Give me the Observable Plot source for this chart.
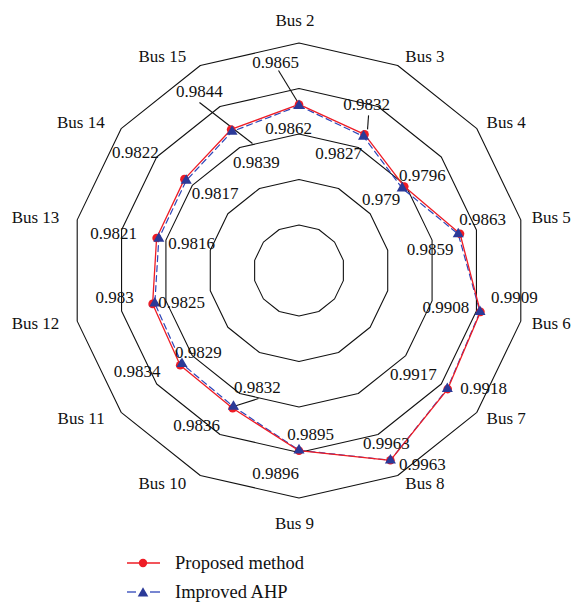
<!DOCTYPE html>
<html>
<head>
<meta charset="utf-8">
<script src="https://cdn.jsdelivr.net/npm/d3@7"></script>
<script src="https://cdn.jsdelivr.net/npm/@observablehq/plot@0.6"></script>
<style>
  html, body { margin: 0; padding: 0; background: #fff; }
  #wrap { position: relative; width: 572px; height: 603px; font-family: "Liberation Serif", "DejaVu Serif", serif; }
  #legend { position: absolute; left: 0; top: 540px; width: 572px; height: 63px; }
  .row { position: absolute; left: 124px; height: 24px; display: flex; align-items: center; font-size: 18.5px; color: #111; }
  .row svg { margin-right: 11px; }
</style>
</head>
<body>
<div id="wrap">
  <div id="chart"></div>
  <div id="legend">
    <div class="row" style="top: 11px;">
      <svg width="40" height="12"><line x1="3" y1="6" x2="36" y2="6" stroke="#ee1c25" stroke-width="1.3"/><circle cx="19" cy="6" r="4.2" fill="#ee1c25"/></svg>
      <span>Proposed method</span>
    </div>
    <div class="row" style="top: 40px;">
      <svg width="40" height="12"><line x1="3" y1="6" x2="12" y2="6" stroke="#2e45b8" stroke-width="1.3"/><line x1="26" y1="6" x2="36" y2="6" stroke="#2e45b8" stroke-width="1.3"/><path d="M19,1.3 L24.3,10.5 L13.7,10.5 Z" fill="#2b3a98"/></svg>
      <span>Improved AHP</span>
    </div>
  </div>
</div>
<script>
// ---- data ----
const buses = ["Bus 2","Bus 3","Bus 4","Bus 5","Bus 6","Bus 7","Bus 8","Bus 9","Bus 10","Bus 11","Bus 12","Bus 13","Bus 14","Bus 15"];
const proposed = [0.9865,0.9832,0.9796,0.9863,0.9909,0.9918,0.9963,0.9896,0.9836,0.9834,0.983,0.9821,0.9822,0.9844];
const improved = [0.9862,0.9827,0.979,0.9859,0.9908,0.9917,0.9963,0.9895,0.9832,0.9829,0.9825,0.9816,0.9817,0.9839];
const rings = [0.96,0.97,0.98,0.99,1.0];
const rMin = 0.95;

// ---- layout (pixel offsets of value labels and leader lines) ----
const proposedLabelOff = [[-23.5,-42],[2,-30],[18,-11],[22.5,-14],[34,-14],[36,-1],[32,4],[-23.5,23],[-36,17],[-43,6],[-38,-6],[-43,-4.5],[-49,-27],[-31.6,-38]];
const improvedLabelOff = [[-10.5,23],[-25,17],[-21,11],[-28,15],[-34,-4],[-34,-14],[-4,-17],[11.5,-16],[24,-19],[16.5,-11],[26.7,-1],[32.7,5],[29,13],[24.4,31]];
const leaders = [
  {series: "p", i: 0, from: [-20.5,-34], to: [-1,-2]},
  {series: "p", i: 1, from: [4,-19], to: [3,-5]},
  {series: "p", i: 13, from: [-31.6,-27], to: [21.4,14]},
  {series: "a", i: 8, from: [25,-8], to: [0,0]}
];

const W = 572, H = 540, cx = 298.5, cy = 270, R = 227.5;
const span = 1.0 - rMin;
const k = span / R; // data units per pixel
const n = buses.length;

function pos(i, v) {
  const a = 2 * Math.PI * i / n;
  const r = v - rMin;
  return {x: r * Math.sin(a), y: r * Math.cos(a), a};
}

const gridData = rings.flatMap(rv => d3.range(n + 1).map(j => ({ring: rv, ...pos(j % n, rv)})));
const seriesLine = (vals) => d3.range(n + 1).map(j => ({...pos(j % n, vals[j % n]), v: vals[j % n]}));
const pPts = proposed.map((v, i) => ({...pos(i, v), v, i, off: proposedLabelOff[i]}));
const aPts = improved.map((v, i) => ({...pos(i, v), v, i, off: improvedLabelOff[i]}));

const busLab = buses.map((b, i) => {
  const p = pos(i, 1.0);
  const s = Math.sin(p.a), c = Math.cos(p.a);
  let anchor = "middle", dx = -4, dy = 0;
  if (i === 0) { dy = -22.5; }
  else if (i === n / 2) { dx = -4.5; dy = 25.5; }
  else if (s > 0) { anchor = "start"; dx = 5 + 6 * Math.abs(s); dy = -c * 9.5; }
  else { anchor = "end"; dx = -11 - 7 * Math.abs(s); dy = -c * 9.5; }
  return {name: b, x: p.x, y: p.y, anchor, dx, dy};
});

const leaderData = leaders.map(L => {
  const p = L.series === "p" ? pPts[L.i] : aPts[L.i];
  return {x1: p.x + L.from[0] * k, y1: p.y - L.from[1] * k, x2: p.x + L.to[0] * k, y2: p.y - L.to[1] * k};
});

const textStyle = {fontSize: 17, fill: "#111"};

const chart = Plot.plot({
  width: W, height: H,
  margin: 0,
  style: {fontFamily: "'Liberation Serif', 'DejaVu Serif', serif", background: "#fff"},
  x: {domain: [-span, span], range: [cx - R, cx + R], axis: null},
  y: {domain: [-span, span], range: [cy + R, cy - R], axis: null},
  marks: [
    Plot.line(gridData, {x: "x", y: "y", z: "ring", stroke: "#111", strokeWidth: 1.1}),
    Plot.link(leaderData, {x1: "x1", y1: "y1", x2: "x2", y2: "y2", stroke: "#111", strokeWidth: 1.1}),
    Plot.line(seriesLine(improved), {x: "x", y: "y", stroke: "#2e45b8", strokeWidth: 1.2, strokeDasharray: "6,4"}),
    Plot.line(seriesLine(proposed), {x: "x", y: "y", stroke: "#ee1c25", strokeWidth: 1.3}),
    Plot.dot(pPts, {x: "x", y: "y", r: 4.3, fill: "#ee1c25", stroke: "none"}),
    Plot.dot(aPts, {x: "x", y: "y", r: 4.1, symbol: "triangle", fill: "#2b3a98", stroke: "none"}),
    Plot.text(pPts, {x: d => d.x + d.off[0] * k, y: d => d.y - d.off[1] * k, text: d => String(d.v), ...textStyle}),
    Plot.text(aPts, {x: d => d.x + d.off[0] * k, y: d => d.y - d.off[1] * k, text: d => String(d.v), ...textStyle}),
    ...busLab.map(b => Plot.text([b], {x: "x", y: "y", text: "name", textAnchor: b.anchor, dx: b.dx, dy: b.dy, ...textStyle}))
  ]
});
document.getElementById("chart").appendChild(chart);
</script>
</body>
</html>
